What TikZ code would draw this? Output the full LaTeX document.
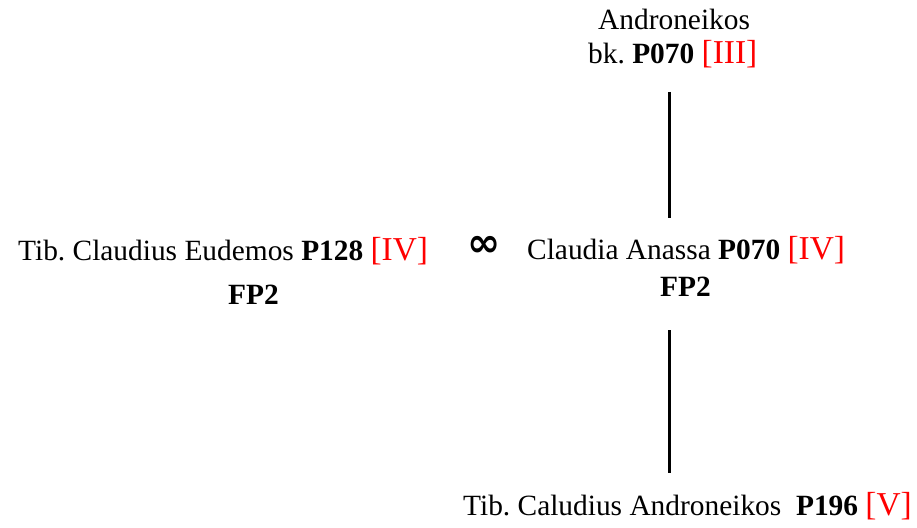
\documentclass[tikz,border=0pt]{standalone}
\usepackage{fontspec}
\setmainfont{Liberation Serif}
\newfontfamily\symfont{DejaVu Sans}
\frenchspacing
\begin{document}
\begin{tikzpicture}[x=1bp,y=-1bp,
  txt/.style={inner sep=0pt,anchor=base west,font=\fontsize{29.5}{32}\selectfont},
  symb/.style={inner sep=0pt,font=\symfont\bfseries\fontsize{40}{42}\selectfont},
  link/.style={line width=3bp}]
\useasboundingbox (0,0) rectangle (917,528);
\newcommand{\rd}[1]{{\color{red}\fontsize{33.5}{36}\selectfont #1}}
\node[txt] (andr) at (598,30) {Androneikos};
\node[txt] (andrb) at (588,64) {bk. \textbf{P070} \rd{[III]}};
\node[txt] (eud) at (18,261) {Tib. Claudius Eudemos \textbf{P128} \rd{[IV]}};
\node[txt] (eudfp) at (228,305) {\textbf{FP2}};
\node[symb] (marr) at (484,246) {∞};
\node[txt] (cla) at (527,260) {Claudia Anassa \textbf{P070} \rd{[IV]}};
\node[txt] (clafp) at (660,297) {\textbf{FP2}};
\node[txt] (tib) at (463,515) {Tib. Caludius Androneikos\ \ \textbf{P196} \rd{[V]}};
\coordinate (l1a) at (669,92);
\coordinate (l1b) at (669,218);
\coordinate (l2a) at (669,330);
\coordinate (l2b) at (669,473);
\draw[link] (l1a) -- (l1b);
\draw[link] (l2a) -- (l2b);
\end{tikzpicture}
\end{document}
